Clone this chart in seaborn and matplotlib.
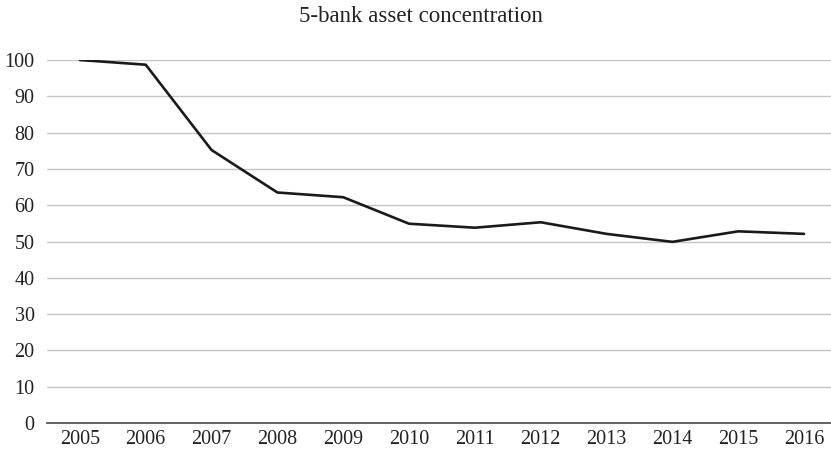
import numpy as np
import pandas as pd
import matplotlib.pyplot as plt
import seaborn as sns

# data
years = [2005, 2006, 2007, 2008, 2009, 2010, 2011, 2012, 2013, 2014, 2015, 2016]
concentration = [100.0, 98.7, 75.2, 63.5, 62.2, 54.9, 53.8, 55.3, 52.1, 49.9, 52.8, 52.1]
yticks = [0, 10, 20, 30, 40, 50, 60, 70, 80, 90, 100]

df = pd.DataFrame({'year': years, 'value': concentration})

sns.set_style('white')
plt.rcParams['font.family'] = ['Liberation Serif', 'DejaVu Serif']

fig = plt.figure(figsize=(8.31, 4.49), dpi=100)
ax = fig.add_axes([47 / 831, 26 / 449, 1 - 47 / 831, (423 - 60) / 449])

sns.lineplot(data=df, x='year', y='value', ax=ax, color='#1a1a1a', linewidth=1.9)

ax.set_xlim(years[0] - 0.5, years[-1] + 0.41)
ax.set_ylim(0, 100)
ax.set_yticks(yticks)
ax.set_xticks(years)
ax.set_xticklabels([str(y) for y in years])
ax.set_xlabel('')
ax.set_ylabel('')

for y in yticks[1:]:
    ax.axhline(y, color='#c4c4c4', linewidth=1.0, zorder=0)

for s in ['top', 'right', 'left']:
    ax.spines[s].set_visible(False)
ax.spines['bottom'].set_color('#555555')
ax.spines['bottom'].set_linewidth(1.3)

ax.tick_params(axis='both', length=0, labelsize=14.5, colors='#222222')
ax.tick_params(axis='y', pad=9)
ax.tick_params(axis='x', pad=5)

fig.text(0.506, 0.963, '5-bank asset concentration', ha='center', va='center',
         fontsize=16.5, color='#222222')

fig.savefig('out.png', dpi=100)
